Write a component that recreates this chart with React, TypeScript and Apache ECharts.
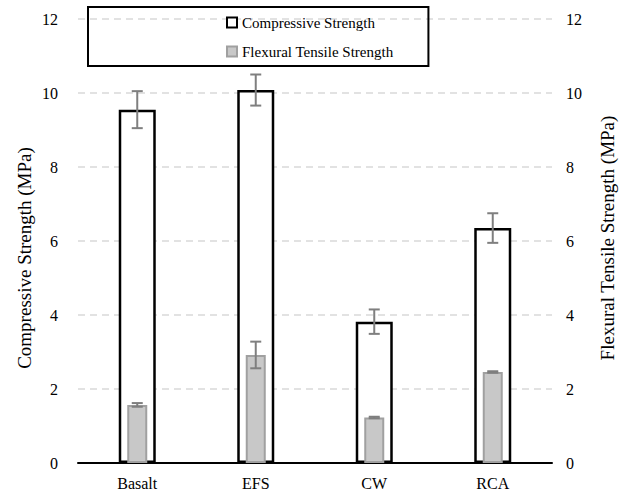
import React, { useEffect, useRef } from "react";
import * as echarts from "echarts";

const categories = ["Basalt", "EFS", "CW", "RCA"];
const compressive = [9.55, 10.08, 3.82, 6.35];
const compressiveErr = [0.5, 0.42, 0.33, 0.4];
const flexural = [1.57, 2.92, 1.23, 2.46];
const flexuralErr = [0.05, 0.36, 0.02, 0.02];
const yTicksMax = 12;
const yInterval = 2;
const leftTitle = "Compressive Strength (MPa)";
const rightTitle = "Flexural Tensile Strength (MPa)";

const FONT = "Liberation Serif";

function errorSeries(values: number[], errs: number[], xi: number, yi: number) {
  return {
    type: "custom",
    xAxisIndex: xi,
    yAxisIndex: yi,
    z: 10,
    silent: true,
    data: values.map((v, i) => [i, v, errs[i]]),
    renderItem: (params: any, api: any) => {
      const idx = api.value(0);
      const v = api.value(1);
      const e = api.value(2);
      const top = api.coord([idx, v + e]);
      const bot = api.coord([idx, v - e]);
      const half = 5.5;
      const style = { stroke: "#7f7f7f", lineWidth: 2 };
      return {
        type: "group",
        children: [
          { type: "line", shape: { x1: top[0], y1: top[1], x2: bot[0], y2: bot[1] }, style },
          { type: "line", shape: { x1: top[0] - half, y1: top[1], x2: top[0] + half, y2: top[1] }, style },
          { type: "line", shape: { x1: bot[0] - half, y1: bot[1], x2: bot[0] + half, y2: bot[1] }, style },
        ],
      };
    },
  };
}

export default function App() {
  const ref = useRef<HTMLDivElement>(null);
  useEffect(() => {
    document.body.style.margin = "0";
    if (!ref.current) return;
    const chart = echarts.init(ref.current, undefined, { renderer: "svg" });
    const textStyle = { fontFamily: FONT, fontSize: 16, color: "#000" };
    const titleFont = `19px "${FONT}"`;
    chart.setOption({
      animation: false,
      backgroundColor: "#fff",
      textStyle,
      grid: { left: 78, right: 72, top: 19, bottom: 34, containLabel: false },
      legend: {
        orient: "vertical",
        left: 88,
        top: 7,
        padding: [8, 35, 7, 138],
        itemGap: 14,
        itemWidth: 10,
        itemHeight: 10,
        borderColor: "#000",
        borderWidth: 2,
        textStyle: { fontFamily: FONT, fontSize: 15, color: "#000" },
        data: [
          { name: "Compressive Strength", icon: "rect", itemStyle: { color: "#fff", borderColor: "#000", borderWidth: 2 } },
          { name: "Flexural Tensile Strength", icon: "rect", itemStyle: { color: "#c8c8c8", borderColor: "#a0a0a0", borderWidth: 2 } },
        ],
      },
      graphic: [
        {
          type: "text",
          x: 24,
          y: 258,
          rotation: Math.PI / 2,
          style: { text: leftTitle, font: titleFont, fill: "#000", align: "center", verticalAlign: "middle" },
        },
        {
          type: "text",
          x: 607,
          y: 238,
          rotation: Math.PI / 2,
          style: { text: rightTitle, font: titleFont, fill: "#000", align: "center", verticalAlign: "middle" },
        },
      ],
      xAxis: [
        {
          type: "category",
          data: categories,
          axisLine: { lineStyle: { color: "#000", width: 2 } },
          axisTick: { show: false },
          axisLabel: { fontFamily: FONT, fontSize: 16, color: "#000", margin: 12 },
        },
        {
          type: "category",
          data: categories,
          show: false,
        },
      ],
      yAxis: [
        {
          type: "value",
          min: 0,
          max: yTicksMax,
          interval: yInterval,
          axisLine: { show: false },
          axisTick: { show: false },
          axisLabel: { fontFamily: FONT, fontSize: 16, color: "#000", margin: 20 },
          splitLine: { lineStyle: { color: "#d9d9d9", width: 1.5, type: [7, 5] } },
        },
        {
          type: "value",
          min: 0,
          max: yTicksMax,
          interval: yInterval,
          position: "right",
          axisLine: { show: false },
          axisTick: { show: false },
          axisLabel: { fontFamily: FONT, fontSize: 16, color: "#000", margin: 14 },
          splitLine: { show: false },
        },
      ],
      series: [
        {
          name: "Compressive Strength",
          type: "bar",
          xAxisIndex: 0,
          yAxisIndex: 0,
          barWidth: 37,
          z: 2,
          data: compressive,
          itemStyle: { color: "#fff", borderColor: "#000", borderWidth: 2.5 },
        },
        {
          name: "Flexural Tensile Strength",
          type: "bar",
          xAxisIndex: 1,
          yAxisIndex: 1,
          barWidth: 20,
          z: 3,
          data: flexural,
          itemStyle: { color: "#c8c8c8", borderColor: "#a0a0a0", borderWidth: 2 },
        },
        errorSeries(compressive, compressiveErr, 0, 0),
        errorSeries(flexural, flexuralErr, 1, 1),
      ],
    });
    return () => chart.dispose();
  }, []);
  return <div ref={ref} style={{ width: 624, height: 497 }} />;
}
